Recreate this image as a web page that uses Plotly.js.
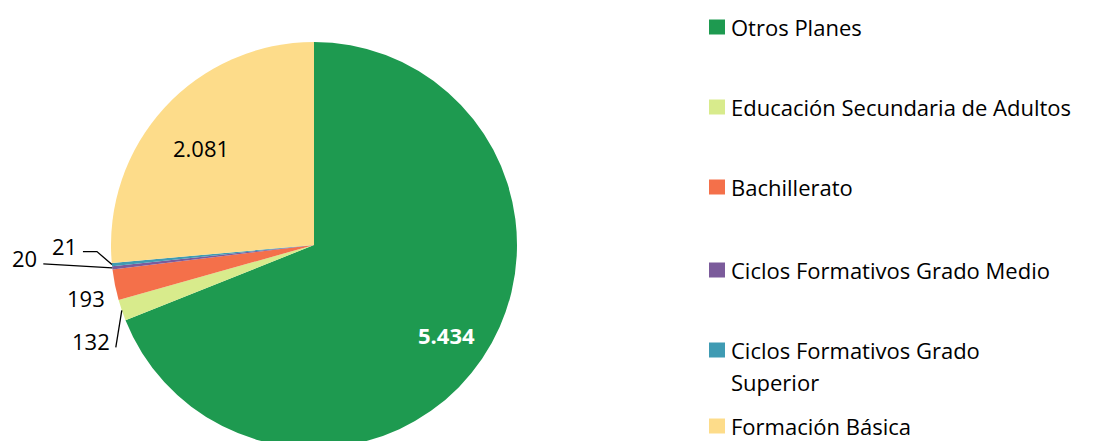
<!DOCTYPE html>
<html>
<head>
<meta charset="utf-8">
<script src="https://cdn.plot.ly/plotly-3.0.1.min.js"></script>
<style>
html,body{margin:0;padding:0;overflow:hidden;background:#fff;}
#chart{width:1093px;height:448px;}
</style>
</head>
<body>
<div id="chart"></div>
<script>
const categories = [
  "Otros Planes",
  "Educación Secundaria de Adultos",
  "Bachillerato",
  "Ciclos Formativos Grado Medio",
  "Ciclos Formativos Grado Superior",
  "Formación Básica"
];
const values = [5434, 132, 193, 20, 21, 2081];
const colors = ["#1E9A50", "#D8EB8C", "#F4704A", "#7B5B9B", "#3F9BB3", "#FDDC8A"];
const legendLines = [
  ["Otros Planes"],
  ["Educación Secundaria de Adultos"],
  ["Bachillerato"],
  ["Ciclos Formativos Grado Medio"],
  ["Ciclos Formativos Grado", "Superior"],
  ["Formación Básica"]
];

const W = 1093, H = 448;
const FONT = "'Open Sans', 'Noto Sans', sans-serif";

// pie geometry (pixels)
const PIE = {x0: 111, x1: 517, y0: 42, y1: 448};
const CX = (PIE.x0 + PIE.x1) / 2, CY = (PIE.y0 + PIE.y1) / 2, R = (PIE.x1 - PIE.x0) / 2;

const trace = {
  type: "pie",
  labels: categories,
  values: values,
  sort: false,
  direction: "clockwise",
  rotation: 0,
  marker: {colors: colors, line: {width: 0}},
  textinfo: "none",
  hoverinfo: "label+value",
  domain: {x: [PIE.x0 / W, PIE.x1 / W], y: [(H - PIE.y1) / H, (H - PIE.y0) / H]},
  showlegend: false
};

// label styling per slice: inside labels (radial factor) or outside labels with offsets from slice edge
const labelStyle = [
  {inside: true, rf: 0.79, color: "#ffffff", bold: true},
  {inside: false, text: [-31, 31], line: [[0, 0], [-6, 37]]},
  {inside: false, text: [-29, 13], line: null},
  {inside: false, text: [-88, -10], line: [[0, 0], [-69, -4]]},
  {inside: false, text: [-47, -19], line: [[0, 0], [-15, -13], [-29, -13]]},
  {inside: true, rf: 0.755, color: "#000000", bold: false, dy: 6}
];

const px2x = x => x / W;
const py2y = y => (H - y) / H;

const shapes = [];
const annotations = [];
const total = values.reduce((a, b) => a + b, 0);
let cum = 0;
values.forEach((v, i) => {
  const midFrac = (cum + v / 2) / total;
  cum += v;
  const th = midFrac * 2 * Math.PI;
  const s = Math.sin(th), c = Math.cos(th);
  const st = labelStyle[i];
  const label = v.toLocaleString("de-DE");
  if (st.inside) {
    const x = CX + st.rf * R * s, y = CY - st.rf * R * c + (st.dy || 0);
    annotations.push({
      xref: "paper", yref: "paper", x: px2x(x), y: py2y(y),
      xanchor: "center", yanchor: "middle", showarrow: false,
      text: st.bold ? "<b>" + label + "</b>" : label,
      font: {family: FONT, size: 22, color: st.color}
    });
  } else {
    const ax = CX + R * s, ay = CY - R * c;
    annotations.push({
      xref: "paper", yref: "paper", x: px2x(ax + st.text[0]), y: py2y(ay + st.text[1]),
      xanchor: "center", yanchor: "middle", showarrow: false,
      text: label,
      font: {family: FONT, size: 22, color: "#000000"}
    });
    if (st.line) {
      const path = st.line.map((p, k) => (k === 0 ? "M" : "L") + px2x(ax + p[0]) + "," + py2y(ay + p[1])).join(" ");
      shapes.push({type: "path", xref: "paper", yref: "paper", path: path, line: {color: "#000000", width: 1.3}});
    }
  }
});

// legend
const legendY = [27, 107, 187, 270, 350, 426];
const lineGap = 32;
categories.forEach((c, i) => {
  const py = legendY[i];
  shapes.push({
    type: "rect", xref: "paper", yref: "paper",
    x0: px2x(709), x1: px2x(725),
    y0: py2y(py + 7.5), y1: py2y(py - 7.5),
    fillcolor: colors[i], line: {width: 0}
  });
  legendLines[i].forEach((t, k) => {
    annotations.push({
      xref: "paper", yref: "paper",
      x: px2x(729), y: py2y(py + k * lineGap),
      xanchor: "left", yanchor: "middle",
      text: t, showarrow: false,
      font: {family: FONT, size: 22, color: "#000000"}
    });
  });
});

const layout = {
  width: W, height: H,
  margin: {l: 0, r: 0, t: 0, b: 0},
  paper_bgcolor: "#ffffff",
  font: {family: FONT, size: 20, color: "#000000"},
  shapes: shapes,
  annotations: annotations,
  showlegend: false
};

Plotly.newPlot("chart", [trace], layout, {displayModeBar: false, staticPlot: true});
</script>
</body>
</html>
